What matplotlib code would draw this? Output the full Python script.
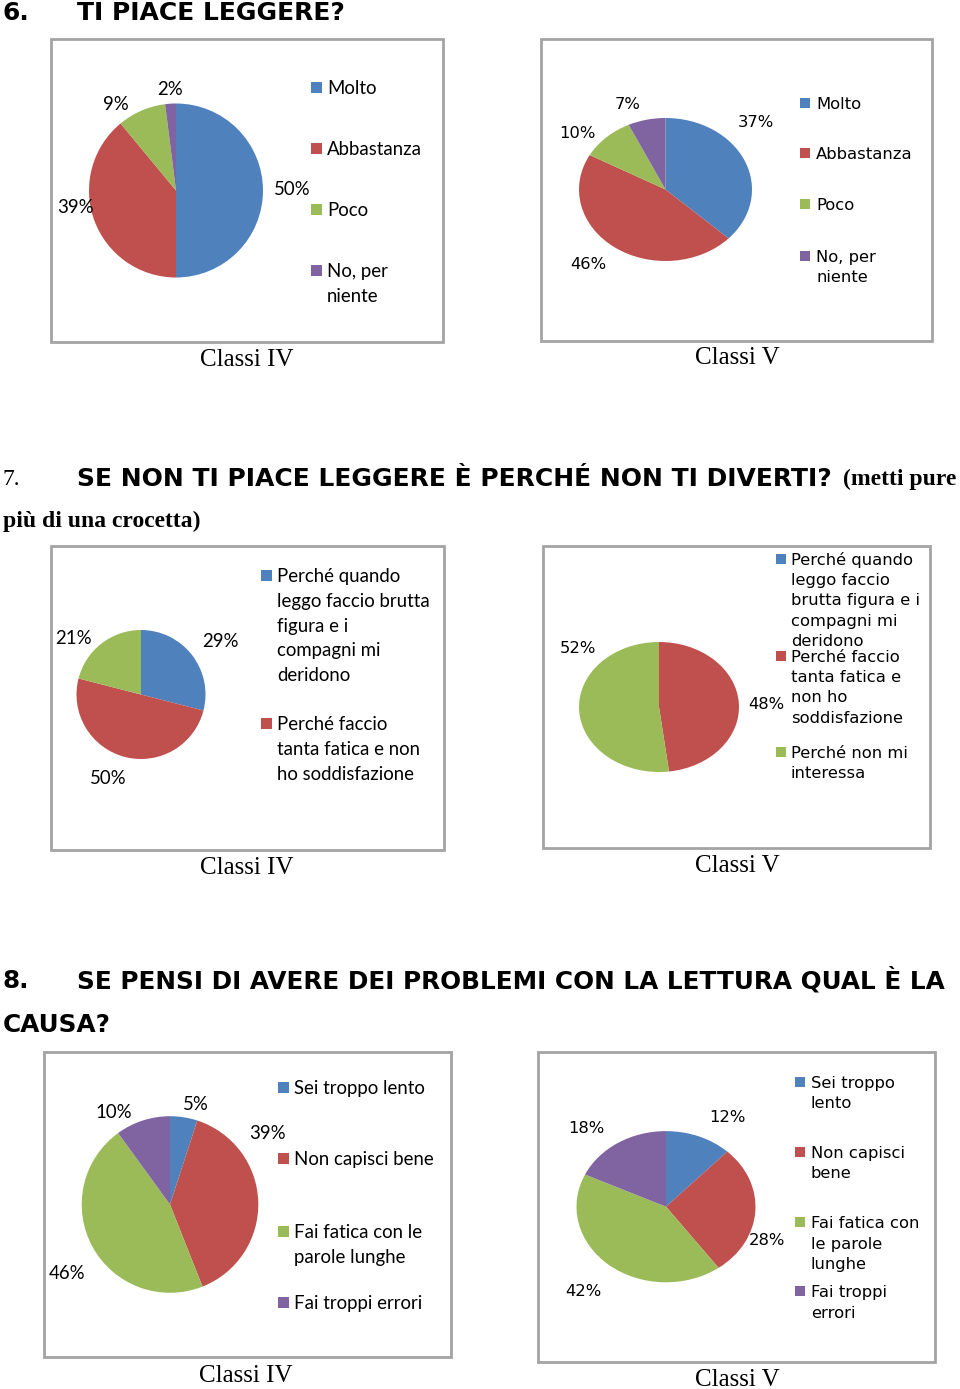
import matplotlib.pyplot as plt
from matplotlib.patches import Rectangle

# ---- data ----
labels_q6 = ["Molto", "Abbastanza", "Poco", "No, per niente"]
q6_classi_iv = [50, 39, 9, 2]
q6_classi_v = [37, 46, 10, 7]

labels_q7 = ["Perché quando leggo faccio brutta figura e i compagni mi deridono",
             "Perché faccio tanta fatica e non ho soddisfazione",
             "Perché non mi interessa"]
q7_classi_iv = [29, 50, 21]
q7_classi_v = [0, 48, 52]

labels_q8 = ["Sei troppo lento", "Non capisci bene",
             "Fai fatica con le parole lunghe", "Fai troppi errori"]
q8_classi_iv = [5, 39, 46, 10]
q8_classi_v = [12, 28, 42, 18]

colors = ['#4f81bd', '#c0504d', '#9bbb59', '#8064a2']

W, H = 960, 1389
fig = plt.figure(figsize=(W / 100, H / 100), dpi=100)
fig.patch.set_facecolor('white')

CAL = 'Lato'          # Calibri-like text of the "Classi IV" charts
VER = 'DejaVu Sans'   # Verdana-like text of the "Classi V" charts
CAL_SIZE = 13.4
VER_SIZE = 11.8


def fx(x):
    return x / W


def fy(y):
    return 1 - y / H


def box(x0, y0, x1, y1):
    fig.add_artist(Rectangle((fx(x0), fy(y1)), (x1 - x0) / W, (y1 - y0) / H,
                             transform=fig.transFigure, fill=False,
                             ec='#a3a3a3', lw=2))


def pie(values, cx, cy, rx, ry, label_px, family, size):
    ax = fig.add_axes([fx(cx - rx), fy(cy + ry), 2 * rx / W, 2 * ry / H])
    wedges, _, pct = ax.pie(values, colors=colors[:len(values)], startangle=90,
                            counterclock=False, autopct='%1.0f%%',
                            wedgeprops=dict(linewidth=0))
    ax.set_aspect('auto')
    ax.set_xlim(-1, 1)
    ax.set_ylim(-1, 1)
    ax.axis('off')
    for t, v, pos in zip(pct, values, label_px):
        if v == 0 or pos is None:
            t.set_visible(False)
            continue
        px, py = pos
        t.set_position(((px - cx) / rx, (cy - py) / ry))
        t.set_fontsize(size)
        t.set_family(family)
        t.set_color('black')
        t.set_va('center_baseline')


def legend(entries, first_ys, sq_x, txt_x, pitch, sq, family, size):
    for i, (lab, y) in enumerate(zip(entries, first_ys)):
        fig.add_artist(Rectangle((fx(sq_x), fy(y + sq / 2)), sq / W, sq / H,
                                 transform=fig.transFigure, fc=colors[i], ec='none'))
        for j, line in enumerate(lab.split('\n')):
            fig.text(fx(txt_x), fy(y + j * pitch), line, ha='left',
                     va='center_baseline', family=family, fontsize=size)


def caption(x, y, s):
    fig.text(fx(x), fy(y), s, ha='center', va='center_baseline',
             family='Liberation Serif', fontsize=18)


# ---- question 6 ----
fig.text(fx(3), fy(11), "6.", ha='left', va='center_baseline',
         family='DejaVu Sans', weight='bold', fontsize=18)
fig.text(fx(77), fy(11), "TI PIACE LEGGERE?", ha='left', va='center_baseline',
         family='DejaVu Sans', weight='bold', fontsize=18)

box(51, 39, 443, 342)
pie(q6_classi_iv, 176, 190.5, 87, 87,
    [(292, 188), (75, 206), (116, 103), (170, 88)], CAL, CAL_SIZE)
legend(["Molto", "Abbastanza", "Poco", "No, per\nniente"],
       [87, 148, 209, 270], 311, 327, 25, 11, CAL, CAL_SIZE)
caption(247, 357, "Classi IV")

box(541, 39, 932, 341)
pie(q6_classi_v, 665.5, 189.5, 86.5, 71.5,
    [(756, 121), (588, 263), (577, 132), (628, 103)], VER, VER_SIZE)
legend(["Molto", "Abbastanza", "Poco", "No, per\nniente"],
       [103, 153, 204, 256], 800, 816, 20.5, 10, VER, VER_SIZE)
caption(737, 356, "Classi V")

# ---- question 7 ----
fig.text(fx(3), fy(477), "7.", ha='left', va='center_baseline',
         family='Liberation Serif', fontsize=17)
fig.text(fx(77), fy(477), "SE NON TI PIACE LEGGERE È PERCHÉ NON TI DIVERTI?",
         ha='left', va='center_baseline', family='DejaVu Sans',
         weight='bold', fontsize=18)
fig.text(fx(843), fy(477), "(metti pure", ha='left', va='center_baseline',
         family='Liberation Serif', weight='bold', fontsize=17)
fig.text(fx(3), fy(519), "più di una crocetta)", ha='left', va='center_baseline',
         family='Liberation Serif', weight='bold', fontsize=17)

box(51, 546, 444, 850)
pie(q7_classi_iv, 141, 694.5, 64.5, 64.5,
    [(220, 640), (108, 777), (73, 637)], CAL, CAL_SIZE)
legend(["Perché quando\nleggo faccio brutta\nfigura e i\ncompagni mi\nderidono",
        "Perché faccio\ntanta fatica e non\nho soddisfazione"],
       [575, 723], 261, 277, 24.75, 11, CAL, CAL_SIZE)
caption(247, 865, "Classi IV")

box(543, 546, 930, 848)
pie(q7_classi_v, 659, 707, 80, 65,
    [None, (766, 703), (578, 647)], VER, VER_SIZE)
legend(["Perché quando\nleggo faccio\nbrutta figura e i\ncompagni mi\nderidono",
        "Perché faccio\ntanta fatica e\nnon ho\nsoddisfazione",
        "Perché non mi\ninteressa"],
       [559, 656, 752], 776, 791, 20.2, 10, VER, VER_SIZE)
caption(737, 863, "Classi V")

# ---- question 8 ----
fig.text(fx(3), fy(978), "8.", ha='left', va='center_baseline',
         family='DejaVu Sans', weight='bold', fontsize=17.8)
fig.text(fx(77), fy(978), "SE PENSI DI AVERE DEI PROBLEMI CON LA LETTURA QUAL È LA",
         ha='left', va='center_baseline', family='DejaVu Sans',
         weight='bold', fontsize=17.8)
fig.text(fx(3), fy(1022), "CAUSA?", ha='left', va='center_baseline',
         family='DejaVu Sans', weight='bold', fontsize=17.8)

box(44, 1052, 451, 1357)
pie(q8_classi_iv, 170, 1204.5, 88.3, 88.3,
    [(196, 1103), (268, 1132), (67, 1272), (114, 1111)], CAL, CAL_SIZE)
legend(["Sei troppo lento", "Non capisci bene",
        "Fai fatica con le\nparole lunghe", "Fai troppi errori"],
       [1087, 1158, 1231, 1302], 278, 294, 24.5, 11, CAL, CAL_SIZE)
caption(246, 1373, "Classi IV")

box(538, 1052, 935, 1362)
pie(q8_classi_v, 666, 1206.7, 89.5, 75.6,
    [(727, 1116), (767, 1239), (583, 1290), (586, 1127)], VER, VER_SIZE)
legend(["Sei troppo\nlento", "Non capisci\nbene",
        "Fai fatica con\nle parole\nlunghe", "Fai troppi\nerrori"],
       [1082, 1152, 1222, 1291], 795, 811, 20.5, 10, VER, VER_SIZE)
caption(737, 1377, "Classi V")

fig.savefig('out.png', dpi=100, facecolor='white')
